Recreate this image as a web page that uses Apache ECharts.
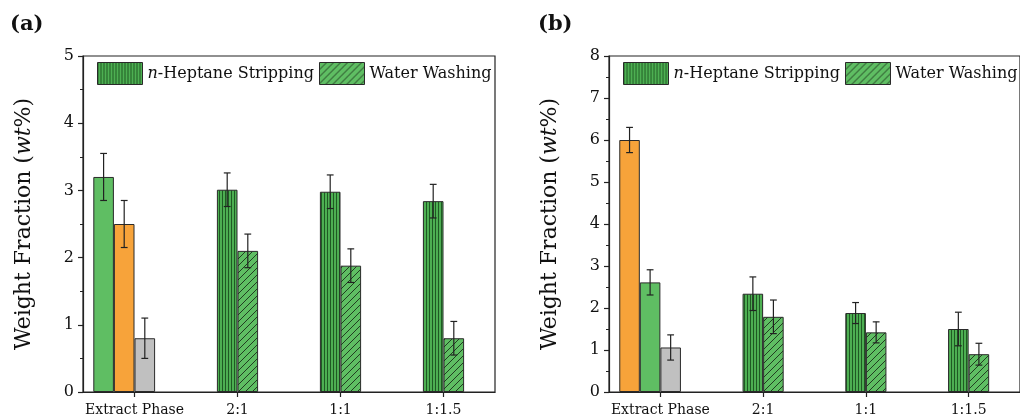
<!DOCTYPE html>
<html>
<head>
<meta charset="utf-8">
<script src="https://cdn.jsdelivr.net/npm/echarts@6/dist/echarts.min.js"></script>
<style>html,body{margin:0;padding:0;background:#fff}#c{width:1020px;height:417px}</style>
</head>
<body>
<div id="c"></div>
<script>
// ---- data ----
const categories = ['Extract Phase', '2:1', '1:1', '1:1.5'];
const yTicksA = [0, 1, 2, 3, 4, 5];
const yTicksB = [0, 1, 2, 3, 4, 5, 6, 7, 8];
// panel (a)
const aExtract = [3.20, 2.50, 0.80];
const aExtractErr = [0.35, 0.35, 0.30];
const aHeptane = [3.01, 2.98, 2.84];
const aHeptaneErr = [0.25, 0.25, 0.25];
const aWater = [2.10, 1.88, 0.80];
const aWaterErr = [0.25, 0.25, 0.25];
// panel (b)
const bExtract = [6.00, 2.61, 1.06];
const bExtractErr = [0.30, 0.30, 0.30];
const bHeptane = [2.34, 1.88, 1.50];
const bHeptaneErr = [0.40, 0.25, 0.40];
const bWater = [1.79, 1.42, 0.90];
const bWaterErr = [0.40, 0.25, 0.26];

// ---- styles ----
const FONT = 'DejaVu Serif';
const GREEN = '#5FBE63', ORANGE = '#F7A33A', GREY = '#C0C0C0';
const aExtractColors = [GREEN, ORANGE, GREY];
const bExtractColors = [ORANGE, GREEN, GREY];

function stripePattern() {
  const c = document.createElement('canvas');
  c.width = 3; c.height = 8;
  const g = c.getContext('2d');
  g.fillStyle = '#4DAF52'; g.fillRect(0, 0, 3, 8);
  g.fillStyle = '#1F5A23'; g.fillRect(0, 0, 1, 8);
  return { image: c, repeat: 'repeat' };
}
function hatchPattern() {
  const s = 7;
  const c = document.createElement('canvas');
  c.width = s; c.height = s;
  const g = c.getContext('2d');
  g.fillStyle = GREEN; g.fillRect(0, 0, s, s);
  g.strokeStyle = '#1a2e1a'; g.lineWidth = 0.9;
  g.beginPath();
  g.moveTo(-1, s + 1); g.lineTo(s + 1, -1);
  g.moveTo(-1, 1); g.lineTo(1, -1);
  g.moveTo(s - 1, s + 1); g.lineTo(s + 1, s - 1);
  g.stroke();
  return { image: c, repeat: 'repeat' };
}
const STRIPES = stripePattern();
const HATCH = hatchPattern();
const BORDER = { borderColor: '#2a2a2a', borderWidth: 1 };

function errRender(params, api) {
  const cat = api.value(0), lo = api.value(1), hi = api.value(2), slot = api.value(3);
  const band = api.size([1, 0])[0];
  const pLo = api.coord([cat, lo]), pHi = api.coord([cat, hi]);
  const x = pLo[0] + (slot - 1.5) * band * 0.2;
  const cap = 3.4;
  const st = { stroke: '#222', lineWidth: 1.2 };
  return {
    type: 'group', children: [
      { type: 'line', shape: { x1: x, y1: pLo[1], x2: x, y2: pHi[1] }, style: st },
      { type: 'line', shape: { x1: x - cap, y1: pHi[1], x2: x + cap, y2: pHi[1] }, style: st },
      { type: 'line', shape: { x1: x - cap, y1: pLo[1], x2: x + cap, y2: pLo[1] }, style: st }
    ]
  };
}

function panelSeries(idx, extract, extractErr, extColors, hept, heptErr, water, waterErr) {
  const common = { type: 'bar', xAxisIndex: idx, yAxisIndex: idx, barWidth: '20%', barGap: '0%' };
  const s0 = Object.assign({}, common, {
    name: 'extract0_' + idx,
    data: [{ value: extract[0], itemStyle: Object.assign({ color: extColors[0] }, BORDER) }, '-', '-', '-'],
    itemStyle: Object.assign({ color: extColors[0] }, BORDER)
  });
  const s1 = Object.assign({}, common, {
    name: 'n-Heptane Stripping',
    data: [{ value: extract[1], itemStyle: Object.assign({ color: extColors[1] }, BORDER) }].concat(hept),
    itemStyle: Object.assign({ color: STRIPES }, BORDER)
  });
  const s2 = Object.assign({}, common, {
    name: 'Water Washing',
    data: [{ value: extract[2], itemStyle: Object.assign({ color: extColors[2] }, BORDER) }].concat(water),
    itemStyle: Object.assign({ color: HATCH }, BORDER)
  });
  const s3 = Object.assign({}, common, { name: 'empty_' + idx, data: ['-', '-', '-', '-'] });
  const errData = [];
  for (let i = 0; i < 3; i++) errData.push([0, extract[i] - extractErr[i], extract[i] + extractErr[i], i]);
  for (let i = 0; i < hept.length; i++) errData.push([i + 1, hept[i] - heptErr[i], hept[i] + heptErr[i], 1]);
  for (let i = 0; i < water.length; i++) errData.push([i + 1, water[i] - waterErr[i], water[i] + waterErr[i], 2]);
  const err = {
    type: 'custom', name: 'err_' + idx, xAxisIndex: idx, yAxisIndex: idx, z: 10,
    renderItem: errRender, data: errData, encode: { x: 0, y: [1, 2] }, silent: true
  };
  return [s0, s1, s2, s3, err];
}

function xAxis(idx) {
  return {
    type: 'category', gridIndex: idx, data: categories,
    axisLine: { lineStyle: { color: '#222', width: 1.2 } },
    axisTick: { show: true, alignWithLabel: true, interval: 0, length: 5, lineStyle: { color: '#222', width: 1.2 } },
    axisLabel: { interval: 0, fontFamily: FONT, fontSize: 14, color: '#111', margin: 11 },
    splitLine: { show: false }
  };
}
function yAxis(idx, ticks) {
  return {
    type: 'value', gridIndex: idx, min: ticks[0], max: ticks[ticks.length - 1], interval: 1,
    name: '{n|Weight Fraction (}{i|wt}{n|%)}',
    nameLocation: 'middle', nameGap: 48,
    nameTextStyle: {
      rich: {
        n: { fontFamily: FONT, fontSize: 22, color: '#111' },
        i: { fontFamily: FONT, fontSize: 22, color: '#111', fontStyle: 'italic' }
      }
    },
    axisLine: { show: true, lineStyle: { color: '#222', width: 1.2 } },
    axisTick: { show: true, length: 5, lineStyle: { color: '#222', width: 1.2 } },
    minorTick: { show: true, splitNumber: 2, length: 3, lineStyle: { color: '#222', width: 1 } },
    axisLabel: { fontFamily: FONT, fontSize: 16, color: '#111', margin: 9 },
    splitLine: { show: false }
  };
}
function legend(left) {
  return {
    left: left, top: 57, width: 440, itemWidth: 45, itemHeight: 22, itemGap: 5, selectedMode: false,
    icon: 'rect', orient: 'horizontal',
    data: ['n-Heptane Stripping', 'Water Washing'],
    itemStyle: { borderColor: '#2a2a2a', borderWidth: 1 },
    formatter: function (name) { return name === 'n-Heptane Stripping' ? '{i|n}{t|-Heptane Stripping}' : '{t|' + name + '}'; },
    textStyle: {
      fontFamily: FONT, fontSize: 16, color: '#111', padding: [0, 0, 0, 0],
      rich: {
        i: { fontFamily: FONT, fontSize: 16, color: '#111', fontStyle: 'italic' },
        t: { fontFamily: FONT, fontSize: 16, color: '#111' }
      }
    }
  };
}

const chart = echarts.init(document.getElementById('c'), null, { renderer: 'canvas' });
chart.setOption({
  animation: false,
  backgroundColor: '#fff',
  title: [
    { text: '(a)', left: 5, top: 9, textStyle: { fontFamily: FONT, fontWeight: 'bold', fontSize: 21, color: '#111' } },
    { text: '(b)', left: 533, top: 9, textStyle: { fontFamily: FONT, fontWeight: 'bold', fontSize: 21, color: '#111' } }
  ],
  legend: [legend(92), legend(618)],
  grid: [
    { left: 83, top: 56, width: 412, height: 336, show: true, borderColor: '#222', borderWidth: 1.2, backgroundColor: 'transparent' },
    { left: 609, top: 56, width: 412, height: 336, show: true, borderColor: '#222', borderWidth: 1.2, backgroundColor: 'transparent' }
  ],
  xAxis: [xAxis(0), xAxis(1)],
  yAxis: [yAxis(0, yTicksA), yAxis(1, yTicksB)],
  series: panelSeries(0, aExtract, aExtractErr, aExtractColors, aHeptane, aHeptaneErr, aWater, aWaterErr)
    .concat(panelSeries(1, bExtract, bExtractErr, bExtractColors, bHeptane, bHeptaneErr, bWater, bWaterErr))
});
</script>
</body>
</html>
